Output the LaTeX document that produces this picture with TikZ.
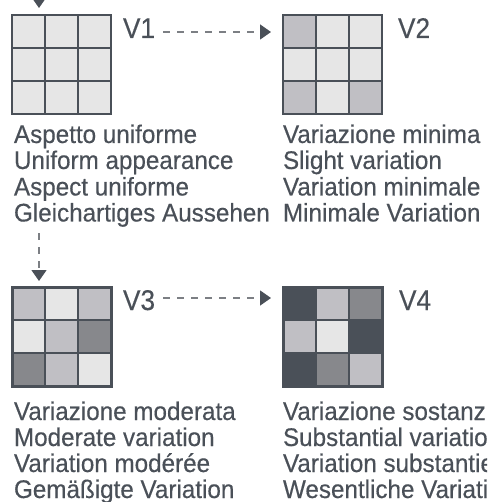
\documentclass[tikz,border=0pt]{standalone}
\usepackage{fontspec}
\setmainfont[FakeStretch=0.95,FakeBold=0.35]{Liberation Sans}
\newfontfamily\lblfont[FakeStretch=0.92,FakeBold=0.35]{Liberation Sans}
\usetikzlibrary{arrows.meta,calc}
\definecolor{ink}{HTML}{4A5058}
\definecolor{cL}{HTML}{E6E6E6}
\definecolor{cM}{HTML}{C0BFC4}
\definecolor{cD}{HTML}{87888C}
\definecolor{cX}{HTML}{4A5058}
\definecolor{dashc}{HTML}{7C7F84}
\tikzset{
  txt/.style={anchor=base west, inner sep=0pt, outer sep=0pt, text=ink, font=\fontsize{25.5}{26}\selectfont},
  lbl/.style={anchor=base west, inner sep=0pt, outer sep=0pt, text=ink, font=\lblfont\fontsize{28.5}{30}\selectfont},
  gridbox/.style={draw=none, minimum size=99pt, inner sep=0pt, outer sep=0pt, anchor=north west},
  cellline/.style={draw=ink, line width=1.5pt},
  frame/.style={draw=ink, line width=#1},
  flow/.style={draw=dashc, line width=1.4pt, dash pattern=on 7pt off 7pt,
    -{Triangle[length=11pt,width=15pt,color=ink]}},
}
\newcommand\mygrid[5]{% name, x, y, border width, colours
  \node[gridbox] (#1) at (#2,#3) {};
  \foreach \cc [count=\i from 0] in {#5} {
    \pgfmathtruncatemacro\rr{\i/3}
    \pgfmathtruncatemacro\kk{mod(\i,3)}
    \fill[\cc] ($(#1.north west)+(\kk*33,\rr*33)$) rectangle ++(33,33);
  }
  \foreach \k in {1,2} {
    \draw[cellline] ($(#1.north west)+(\k*33,0)$) -- ++(0,99);
    \draw[cellline] ($(#1.north west)+(0,\k*33)$) -- ++(99,0);
  }
  \draw[frame=#4] (#1.north west) rectangle (#1.south east);
}
\begin{document}
\begin{tikzpicture}[x=1pt,y=-1pt]
\useasboundingbox (0,0) rectangle (487,502);
\clip (0,0) rectangle (487,502);
\fill[white] (0,0) rectangle (487,502);

% grids
\mygrid{g1}{12}{15}{2pt}{cL,cL,cL,cL,cL,cL,cL,cL,cL}
\mygrid{g2}{283}{15}{2pt}{cM,cL,cL,cL,cL,cL,cM,cL,cM}
\mygrid{g3}{12}{287}{3pt}{cM,cL,cM,cL,cM,cD,cD,cM,cL}
\mygrid{g4}{283}{287}{3pt}{cX,cM,cD,cM,cL,cX,cX,cD,cM}

% labels
\node[lbl] (v1) at (123,38) {V1};
\node[lbl] (v2) at (398,38) {V2};
\node[lbl] (v3) at (123,310) {V3};
\node[lbl] (v4) at (399,310) {V4};

% texts
\node[txt] (t1a) at (14,143) {Aspetto uniforme};
\node[txt] (t1b) at (14,169) {Uniform appearance};
\node[txt] (t1c) at (14,195.5) {Aspect uniforme};
\node[txt] (t1d) at (14,221.5) {Gleichartiges Aussehen};

\node[txt] (t2a) at (283,143) {Variazione minima};
\node[txt] (t2b) at (283,169) {Slight variation};
\node[txt] (t2c) at (283,195.5) {Variation minimale};
\node[txt] (t2d) at (283,221.5) {Minimale Variation};

\node[txt] (t3a) at (14,420) {Variazione moderata};
\node[txt] (t3b) at (14,446) {Moderate variation};
\node[txt] (t3c) at (14,472) {Variation modérée};
\node[txt] (t3d) at (14,498) {Gemäßigte Variation};

\node[txt] (t4a) at (283,420) {Variazione sostanziale};
\node[txt] (t4b) at (283,446) {Substantial variation};
\node[txt] (t4c) at (283,472) {Variation substantielle};
\node[txt] (t4d) at (283,498) {Wesentliche Variation};

% connectors
\coordinate (topin) at (39,-30);
\coordinate (toptip) at (39,8);
\draw[flow] (topin) -- (toptip);

\draw[flow] ($(v1.base east)+(8,-6)$) -- ($(v1.base east -| g2.west)+(-12,-6)$);
\draw[flow] ($(v3.base east)+(8,-12)$) -- ($(v3.base east -| g4.west)+(-12,-12)$);

\coordinate (vstart) at (39,233);
\draw[flow] (vstart) -- (vstart |- {$(g3.north)+(0,-6)$});
\end{tikzpicture}
\end{document}
